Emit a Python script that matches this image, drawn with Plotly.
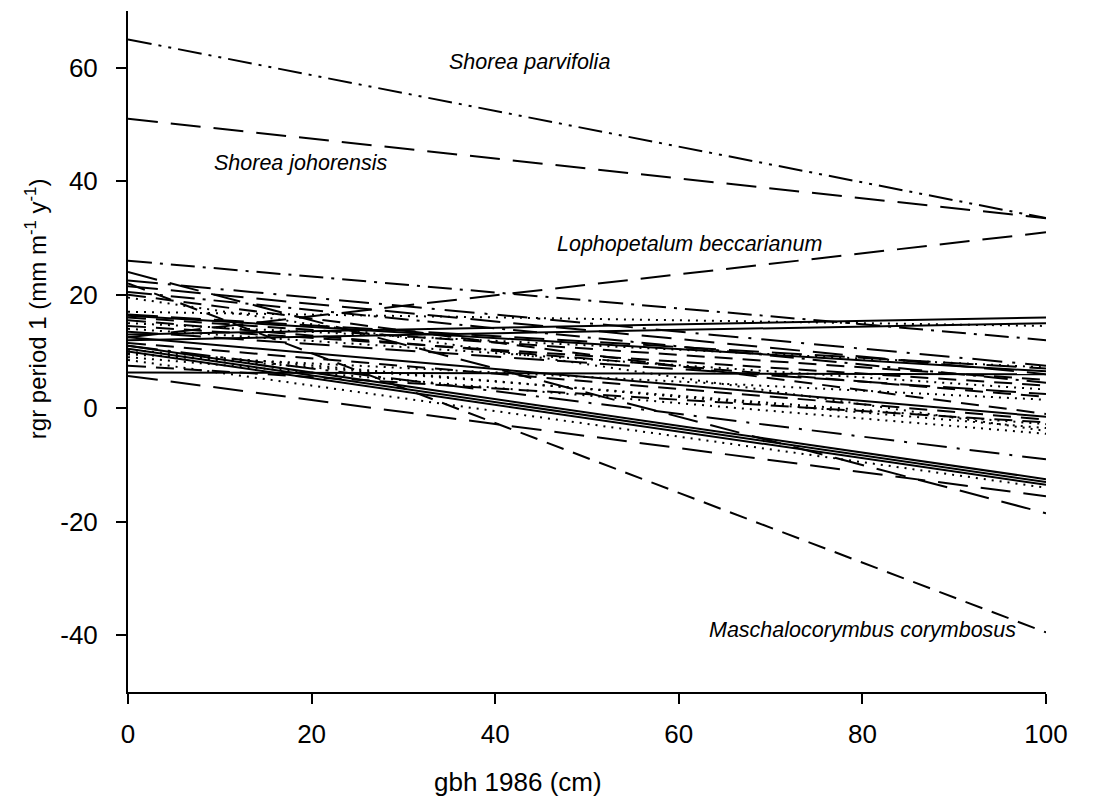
import plotly.graph_objects as go

# Fitted rgr vs gbh regression lines per species: value at gbh 0 and gbh 100
gbh_range = [0, 100]
rgr_at_0 = [65.0, 51.0, 12.5, 22.0, 26.0, 13.0, 12.0, 17.0, 22.5, 21.5,
            20.5, 19.5, 20.0, 24.0, 16.5, 16.3, 16.0, 15.5, 15.0, 14.5,
            14.0, 13.5, 12.5, 11.5, 11.0, 10.5, 10.0, 9.5, 9.0, 8.5,
            7.5, 5.7, 11.0, 6.3, 9.7, 10.3]
rgr_at_100 = [33.5, 33.5, 31.0, -39.5, 12.0, 16.0, 15.0, 14.5, 7.5, 6.0,
              4.5, -4.0, -1.0, -18.5, 7.0, 6.5, 5.0, 2.0, 7.2, 4.0,
              3.3, 2.5, -1.5, -2.0, -12.5, -13.0, -13.5, 1.5, -4.5, -14.0,
              -2.5, -15.5, -9.0, 6.0, -2.8, -3.5]
line_styles = ["dashdotdot", "longdash", "longdash", "dash", "dashdot", "solid",
               "solid", "dot", "longdashdot", "longdash", "dashdot", "dot",
               "dash", "longdash", "longdash", "solid", "dash", "dash", "dot",
               "dash", "dot", "longdash", "solid", "dash", "solid", "solid",
               "solid", "dot", "dot", "dot", "dash", "longdash", "longdashdot",
               "solid", "dot", "dot"]

# Axis ticks
x_ticks = [0, 20, 40, 60, 80, 100]
y_ticks = [-40, -20, 0, 20, 40, 60]
y_tick_labels = ["-40", "-20", "0", "20", "40", "60"]

# Species labels and their positions
label_text = ["Shorea parvifolia", "Shorea johorensis",
              "Lophopetalum beccarianum", "Maschalocorymbus corymbosus"]
label_x = [43.7, 18.8, 61.2, 80.0]
label_y = [61.0, 43.2, 29.0, -39.0]

dash_patterns = {
    "solid": "solid",
    "dot": "2px,6px",
    "dash": "18px,10px",
    "longdash": "30px,13px",
    "dashdot": "24px,8px,3px,8px",
    "longdashdot": "30px,10px,3px,10px",
    "dashdotdot": "24px,7px,3px,7px,3px,7px",
}

FONT = "Liberation Sans, Arial, sans-serif"

fig = go.Figure()
for y0, y1, style in zip(rgr_at_0, rgr_at_100, line_styles):
    fig.add_trace(go.Scatter(
        x=gbh_range, y=[y0, y1], mode="lines",
        line=dict(color="black", width=2, dash=dash_patterns[style]),
        showlegend=False, hoverinfo="skip"))

for t, lx, ly in zip(label_text, label_x, label_y):
    fig.add_annotation(x=lx, y=ly, text=f"<i>{t}</i>", showarrow=False,
                       font=dict(family=FONT, size=21.5, color="black"))

# Axis titles
fig.add_annotation(x=42.5, xref="x", y=-0.132, yref="paper",
                   text="gbh 1986 (cm)", showarrow=False,
                   font=dict(family=FONT, size=26, color="black"),
                   yanchor="middle")
fig.add_annotation(x=-0.1, xref="paper", y=17.5, yref="y",
                   text="rgr period 1 (mm m<sup>-1</sup> y<sup>-1</sup>)",
                   showarrow=False, textangle=-90,
                   font=dict(family=FONT, size=24, color="black"),
                   xanchor="center")

tick_font = dict(family=FONT, size=26, color="black")
fig.update_layout(
    width=1104, height=803,
    margin=dict(l=128, r=58, t=11, b=111),
    plot_bgcolor="white", paper_bgcolor="white",
    font=tick_font,
    xaxis=dict(range=[0, 100], tickvals=x_ticks,
               showline=True, linecolor="black", linewidth=2,
               ticks="outside", ticklen=10, tickwidth=2, tickcolor="black",
               showgrid=False, zeroline=False, tickfont=tick_font,
               ticklabelstandoff=8),
    yaxis=dict(range=[-50, 70], tickvals=y_ticks, ticktext=y_tick_labels,
               showline=True, linecolor="black", linewidth=2,
               ticks="outside", ticklen=10, tickwidth=2, tickcolor="black",
               showgrid=False, zeroline=False, tickfont=tick_font,
               ticklabelstandoff=13),
)

fig.write_html("out.html")
